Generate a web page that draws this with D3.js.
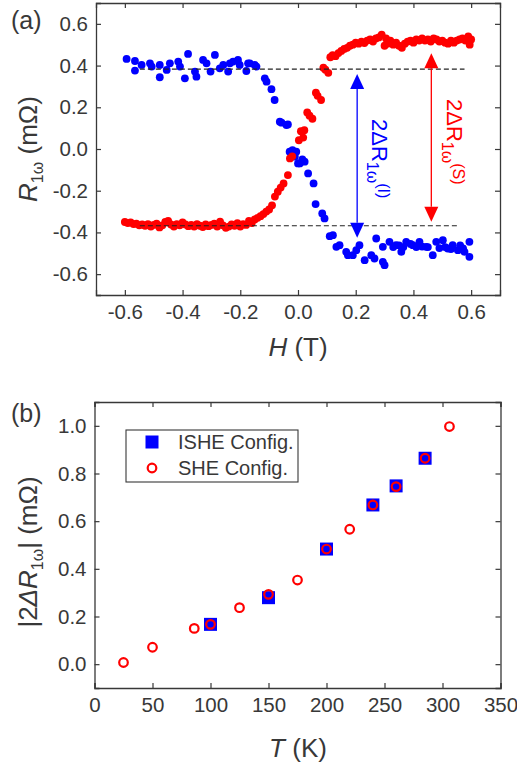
<!DOCTYPE html>
<html>
<head>
<meta charset="utf-8">
<script src="https://cdn.jsdelivr.net/npm/d3@7/dist/d3.min.js"></script>
<style>
  html, body { margin: 0; padding: 0; background: #fff; }
  svg { display: block; font-family: "Liberation Sans", Arial, sans-serif; }
</style>
</head>
<body>
<svg id="chart" width="517" height="767"></svg>
<script>
// ── Panel (a): R_1ω vs H sweeps ──────────────────────────────────────────────
const blueH = [-0.594,-0.565,-0.565,-0.542,-0.513,-0.507,-0.479,-0.479,-0.455,-0.444,-0.415,-0.409,-0.392,-0.381,
  -0.357,-0.352,-0.329,-0.317,-0.303,-0.288,-0.271,-0.259,-0.242,-0.236,-0.225,-0.208,-0.202,-0.179,-0.173,-0.167,
  -0.150,-0.144,-0.115,-0.109,-0.092,-0.081,-0.063,-0.057,-0.040,-0.035,-0.029,-0.019,-0.011,-0.006,0.000,0.006,
  0.015,0.023,0.035,0.054,0.061,0.084,0.092,0.110,0.121,0.133,0.144,0.167,0.173,0.190,0.202,0.213,0.231,0.254,
  0.265,0.271,0.294,0.294,0.300,0.317,0.330,0.340,0.350,0.358,0.365,0.375,0.390,0.398,0.410,0.421,0.430,0.444,
  0.450,0.467,0.479,0.490,0.502,0.510,0.519,0.530,0.536,0.554,0.562,0.572,0.577,0.594,0.594];
const blueR = [0.432,0.422,0.376,0.403,0.411,0.395,0.344,0.403,0.379,0.411,0.419,0.395,0.339,0.456,
  0.371,0.347,0.427,0.411,0.371,0.451,0.387,0.403,0.371,0.411,0.419,0.427,0.403,0.374,0.411,0.411,
  0.403,0.395,0.339,0.323,0.287,0.235,0.131,0.126,0.115,0.118,-0.013,-0.005,-0.037,-0.013,-0.069,-0.069,
  -0.050,-0.061,-0.117,-0.165,-0.264,-0.309,-0.333,-0.418,-0.413,-0.469,-0.461,-0.493,-0.509,-0.509,-0.485,-0.461,-0.533,-0.509,
  -0.525,-0.429,-0.541,-0.469,-0.557,-0.445,-0.470,-0.461,-0.462,-0.493,-0.470,-0.445,-0.455,-0.461,-0.470,-0.445,-0.468,-0.469,
  -0.470,-0.509,-0.445,-0.475,-0.437,-0.470,-0.477,-0.480,-0.461,-0.485,-0.462,-0.476,-0.493,-0.445,-0.517];

const redH = [-0.60,-0.59,-0.58,-0.57,-0.56,-0.55,-0.54,-0.53,-0.52,-0.51,-0.50,-0.49,-0.48,-0.47,-0.46,-0.45,
  -0.44,-0.43,-0.42,-0.41,-0.40,-0.39,-0.38,-0.37,-0.36,-0.35,-0.34,-0.33,-0.32,-0.31,-0.30,-0.29,-0.28,-0.27,
  -0.26,-0.25,-0.24,-0.23,-0.22,-0.21,-0.20,-0.19,-0.18,-0.17,-0.16,-0.15,-0.14,-0.13,-0.12,-0.11,-0.10,-0.09,
  -0.08,-0.07,-0.06,-0.05,-0.035,-0.028,-0.020,0.003,0.010,0.018,0.022,0.032,0.040,0.050,0.062,0.068,0.080,
  0.088,0.095,0.105,0.112,0.120,0.130,0.140,0.150,0.160,0.170,0.180,0.190,0.200,0.210,0.220,0.230,0.240,0.250,
  0.260,0.270,0.280,0.290,0.300,0.305,0.310,0.320,0.330,0.340,0.350,0.360,0.370,0.380,0.390,0.400,0.410,0.420,
  0.430,0.440,0.450,0.460,0.470,0.480,0.490,0.500,0.510,0.520,0.530,0.540,0.550,0.560,0.570,0.580,0.590,0.595,0.600];
const redR = [-0.350,-0.355,-0.352,-0.360,-0.358,-0.366,-0.362,-0.368,-0.360,-0.372,-0.364,-0.358,-0.376,-0.366,-0.350,-0.345,
  -0.362,-0.372,-0.360,-0.366,-0.352,-0.362,-0.370,-0.364,-0.372,-0.360,-0.368,-0.374,-0.362,-0.370,-0.364,-0.358,-0.372,-0.348,
  -0.366,-0.378,-0.372,-0.362,-0.368,-0.356,-0.372,-0.360,-0.364,-0.345,-0.355,-0.338,-0.330,-0.322,-0.312,-0.300,-0.290,-0.270,
  -0.228,-0.205,-0.185,-0.165,-0.125,-0.045,-0.035,0.042,0.085,0.055,0.090,0.175,0.160,0.145,0.270,0.255,0.235,
  0.390,0.380,0.365,0.440,0.450,0.445,0.460,0.470,0.480,0.485,0.495,0.500,0.510,0.505,0.515,0.508,0.520,0.525,
  0.515,0.530,0.535,0.548,0.495,0.530,0.505,0.520,0.500,0.510,0.495,0.485,0.505,0.515,0.520,0.510,0.525,0.520,
  0.530,0.520,0.525,0.515,0.530,0.525,0.515,0.520,0.510,0.505,0.520,0.510,0.520,0.525,0.530,0.520,0.540,0.500,0.525];

// guide lines and arrows [H start, H end, R]
const dashTop = [-0.548, 0.577, 0.383];
const dashBottom = [-0.548, 0.554, -0.368];
const arrowBlue = [0.205, 0.359, -0.426];   // [H, R top, R bottom]
const arrowRed  = [0.462, 0.459, -0.349];

const ticksA = [-0.6, -0.4, -0.2, 0.0, 0.2, 0.4, 0.6];

// ── Panel (b): |2ΔR_1ω| vs T ─────────────────────────────────────────────────
const tempISHE = [100, 150, 200, 240, 260, 285];
const valISHE  = [0.167, 0.279, 0.483, 0.668, 0.748, 0.864];
const tempSHE  = [25, 50, 86, 100, 125, 150, 175, 200, 220, 240, 260, 285, 306];
const valSHE   = [0.007, 0.071, 0.150, 0.167, 0.237, 0.293, 0.353, 0.483, 0.566, 0.668, 0.745, 0.864, 0.997];
const ticksBx = [0, 50, 100, 150, 200, 250, 300, 350];
const ticksBy = [0.0, 0.2, 0.4, 0.6, 0.8, 1.0];

const BLUE = "#0000ff", RED = "#ff0000", INK = "#383838";
const svg = d3.select("#chart");

function frame(x, y, xTicks, yTicks, fmtX, fmtY) {
  const g = svg.append("g");
  const [x0, x1] = x.range(), [y0, y1] = y.range();
  g.append("g").attr("transform", `translate(0,${y0})`)
    .call(d3.axisBottom(x).tickValues(xTicks).tickSize(-5).tickPadding(9).tickFormat(fmtX));
  g.append("g").attr("transform", `translate(0,${y1})`)
    .call(d3.axisTop(x).tickValues(xTicks).tickSize(-5).tickFormat(""));
  g.append("g").attr("transform", `translate(${x0},0)`)
    .call(d3.axisLeft(y).tickValues(yTicks).tickSize(-5).tickPadding(8).tickFormat(fmtY));
  g.append("g").attr("transform", `translate(${x1},0)`)
    .call(d3.axisRight(y).tickValues(yTicks).tickSize(-5).tickFormat(""));
  g.selectAll(".domain").attr("stroke", INK).attr("stroke-width", 1.3);
  g.selectAll(".tick line").attr("stroke", INK).attr("stroke-width", 1.2);
  g.selectAll(".tick text").attr("fill", INK).attr("font-size", 20.5)
    .attr("font-family", "'Liberation Sans', Arial, sans-serif");
  return g;
}

const fmt1 = d => d.toFixed(1);

// ── Panel (a) ──
const xA = d3.scaleLinear().domain([-0.7, 0.7]).range([96, 500]);
const yA = d3.scaleLinear().domain([-0.7, 0.7]).range([295, 3]);

const dotsA = svg.append("g");
dotsA.selectAll("circle.blue").data(blueH).join("circle")
  .attr("cx", d => xA(d)).attr("cy", (d, i) => yA(blueR[i])).attr("r", 3.9).attr("fill", BLUE);
dotsA.selectAll("circle.red").data(redH).join("circle")
  .attr("cx", d => xA(d)).attr("cy", (d, i) => yA(redR[i])).attr("r", 3.9).attr("fill", RED);

[dashTop, dashBottom].forEach(function (d) {
  svg.append("line")
    .attr("x1", xA(d[0])).attr("x2", xA(d[1]))
    .attr("y1", yA(d[2])).attr("y2", yA(d[2]))
    .attr("stroke", "#222").attr("stroke-width", 1.1).attr("stroke-dasharray", "5,3");
});

function arrow(a, color) {
  const x = xA(a[0]), yt = yA(a[1]), yb = yA(a[2]);
  const hl = 15, hw = 7;
  svg.append("line").attr("x1", x).attr("x2", x).attr("y1", yt + hl).attr("y2", yb - hl)
    .attr("stroke", color).attr("stroke-width", 1.3);
  svg.append("path").attr("d", `M${x},${yt} L${x - hw},${yt + hl} L${x + hw},${yt + hl} Z`).attr("fill", color);
  svg.append("path").attr("d", `M${x},${yb} L${x - hw},${yb - hl} L${x + hw},${yb - hl} Z`).attr("fill", color);
}
arrow(arrowBlue, BLUE);
arrow(arrowRed, RED);

function deltaLabel(x, y, sup, color) {
  const t = svg.append("text").attr("transform", `translate(${x},${y}) rotate(90)`)
    .attr("fill", color).attr("font-size", 22);
  t.append("tspan").text("2ΔR");
  t.append("tspan").attr("font-size", 16).attr("dy", 5).text("1ω");
  t.append("tspan").attr("font-size", 16).attr("dy", -11).text(sup);
}
deltaLabel(372, 119, "(I)", BLUE);
deltaLabel(447, 99, "(S)", RED);

frame(xA, yA, ticksA, ticksA, fmt1, fmt1);

svg.append("text").attr("x", 11).attr("y", 29).attr("font-size", 25).attr("fill", INK).text("(a)");

const ylA = svg.append("text").attr("transform", "translate(37,149) rotate(-90)")
  .attr("text-anchor", "middle").attr("font-size", 26).attr("fill", INK);
ylA.append("tspan").attr("font-style", "italic").text("R");
ylA.append("tspan").attr("font-size", 16).attr("dy", 6).text("1ω");
ylA.append("tspan").attr("dy", -6).text(" (mΩ)");

const xlA = svg.append("text").attr("x", 298).attr("y", 356)
  .attr("text-anchor", "middle").attr("font-size", 26).attr("fill", INK);
xlA.append("tspan").attr("font-style", "italic").text("H");
xlA.append("tspan").text(" (T)");

// ── Panel (b) ──
const xB = d3.scaleLinear().domain([0, 350]).range([94.5, 500.5]);
const yB = d3.scaleLinear().domain([-0.1, 1.1]).range([688, 402]);

const sq = 13;
svg.append("g").selectAll("rect").data(tempISHE).join("rect")
  .attr("x", d => xB(d) - sq / 2).attr("y", (d, i) => yB(valISHE[i]) - sq / 2)
  .attr("width", sq).attr("height", sq).attr("fill", BLUE);
svg.append("g").selectAll("circle").data(tempSHE).join("circle")
  .attr("cx", d => xB(d)).attr("cy", (d, i) => yB(valSHE[i])).attr("r", 4.3)
  .attr("fill", "none").attr("stroke", RED).attr("stroke-width", 2.2);

frame(xB, yB, ticksBx, ticksBy, d3.format("d"), fmt1);

// legend
const lg = svg.append("g");
lg.append("rect").attr("x", 126).attr("y", 430).attr("width", 172).attr("height", 52)
  .attr("fill", "#fff").attr("stroke", INK).attr("stroke-width", 1.1);
lg.append("rect").attr("x", 152 - sq / 2).attr("y", 442 - sq / 2).attr("width", sq).attr("height", sq).attr("fill", BLUE);
lg.append("circle").attr("cx", 152).attr("cy", 468).attr("r", 4.3)
  .attr("fill", "none").attr("stroke", RED).attr("stroke-width", 2.2);
lg.append("text").attr("x", 178).attr("y", 449).attr("font-size", 20).attr("fill", INK).text("ISHE Config.");
lg.append("text").attr("x", 178).attr("y", 475).attr("font-size", 20).attr("fill", INK).text("SHE Config.");

svg.append("text").attr("x", 11).attr("y", 422).attr("font-size", 25).attr("fill", INK).text("(b)");

const ylB = svg.append("text").attr("transform", "translate(37,552) rotate(-90)")
  .attr("text-anchor", "middle").attr("font-size", 26).attr("fill", INK);
ylB.append("tspan").text("|2");
ylB.append("tspan").attr("font-style", "italic").text("ΔR");
ylB.append("tspan").attr("font-size", 16).attr("dy", 6).text("1ω");
ylB.append("tspan").attr("dy", -6).text("| (mΩ)");

const xlB = svg.append("text").attr("x", 298).attr("y", 757)
  .attr("text-anchor", "middle").attr("font-size", 26).attr("fill", INK);
xlB.append("tspan").attr("font-style", "italic").text("T");
xlB.append("tspan").text(" (K)");
</script>
</body>
</html>
